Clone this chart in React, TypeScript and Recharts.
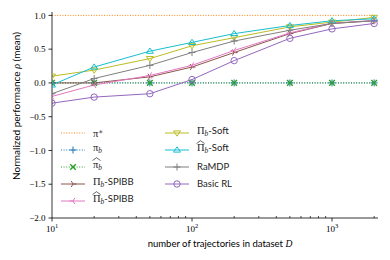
import React from 'react';
import { LineChart, Line, XAxis, YAxis, Legend } from 'recharts';

// dataset sizes (log x axis)
const trajectories = [10, 20, 50, 100, 200, 500, 1000, 2000];

// normalized performance per method
const piStar = [1, 1, 1, 1, 1, 1, 1, 1];
const piB = [0, 0, 0, 0, 0, 0, 0, 0];
const piBHat = [0, 0, 0, 0, 0, 0, 0, 0];
const spibb = [0.0, 0.0, 0.09, 0.235, 0.45, 0.73, 0.88, 0.92];
const spibbHat = [-0.2, -0.03, 0.11, 0.26, 0.48, 0.74, 0.885, 0.925];
const soft = [0.1, 0.19, 0.36, 0.55, 0.67, 0.83, 0.9, 0.97];
const softHat = [-0.03, 0.235, 0.47, 0.6, 0.73, 0.85, 0.92, 0.95];
const raMDP = [-0.16, 0.065, 0.26, 0.45, 0.62, 0.78, 0.88, 0.92];
const basicRL = [-0.3, -0.21, -0.16, 0.05, 0.33, 0.66, 0.8, 0.88];

const xTicks = [10, 20, 30, 40, 50, 60, 70, 80, 90, 100, 200, 300, 400, 500, 600, 700, 800, 900, 1000, 2000];
const majorX = [10, 100, 1000];
const yTicks = [-2, -1.5, -1, -0.5, 0, 0.5, 1];

const data = trajectories.map((n, i) => ({
  n,
  piStar: piStar[i],
  piB: piB[i],
  piBHat: piBHat[i],
  spibb: spibb[i],
  spibbHat: spibbHat[i],
  soft: soft[i],
  softHat: softHat[i],
  raMDP: raMDP[i],
  basicRL: basicRL[i],
}));

const SERIF = '"Liberation Serif", "DejaVu Serif", serif';
const SANS = 'Lato, "Open Sans", sans-serif';
const DOTTED = '1 1.6';

type Kind = 'none' | 'plus' | 'x' | 'triR' | 'triL' | 'triDown' | 'triUp' | 'circle';

const Marker = ({ kind, cx, cy, color }: { kind: Kind; cx: number; cy: number; color: string }) => {
  const r = 3.5;
  if (kind === 'plus') {
    return (
      <g stroke={color} strokeWidth={1}>
        <line x1={cx - r} x2={cx + r} y1={cy} y2={cy} />
        <line x1={cx} x2={cx} y1={cy - r} y2={cy + r} />
      </g>
    );
  }
  if (kind === 'x') {
    const d = 2.8;
    return (
      <g stroke={color} strokeWidth={1.4}>
        <line x1={cx - d} x2={cx + d} y1={cy - d} y2={cy + d} />
        <line x1={cx - d} x2={cx + d} y1={cy + d} y2={cy - d} />
      </g>
    );
  }
  if (kind === 'triR' || kind === 'triL') {
    const s = kind === 'triR' ? 1 : -1;
    return (
      <g stroke={color} strokeWidth={1}>
        <line x1={cx} y1={cy} x2={cx + s * r} y2={cy} />
        <line x1={cx} y1={cy} x2={cx - s * r * 0.5} y2={cy - r * 0.87} />
        <line x1={cx} y1={cy} x2={cx - s * r * 0.5} y2={cy + r * 0.87} />
      </g>
    );
  }
  if (kind === 'triDown') {
    const p = `${cx - r},${cy - r * 0.6} ${cx + r},${cy - r * 0.6} ${cx},${cy + r * 0.9}`;
    return <polygon points={p} fill="none" stroke={color} strokeWidth={1} />;
  }
  if (kind === 'triUp') {
    const p = `${cx - r},${cy + r * 0.6} ${cx + r},${cy + r * 0.6} ${cx},${cy - r * 0.9}`;
    return <polygon points={p} fill="none" stroke={color} strokeWidth={1} />;
  }
  if (kind === 'circle') {
    return <circle cx={cx} cy={cy} r={3.2} fill="none" stroke={color} strokeWidth={1} />;
  }
  return null;
};

const sub = (t: string) => <span style={{ fontSize: '0.7em', verticalAlign: '-0.25em', fontStyle: 'italic' }}>{t}</span>;
const sup = (t: string) => <span style={{ fontSize: '0.7em', verticalAlign: '0.45em' }}>{t}</span>;
const math = (c: React.ReactNode) => <span style={{ fontFamily: SERIF, fontSize: 10.5 }}>{c}</span>;
// wide hat drawn over a glyph
const hat = (c: string) => (
  <span style={{ position: 'relative', display: 'inline-block' }}>
    {c}
    <svg width={9} height={4} style={{ position: 'absolute', left: -1, top: -3 }}>
      <polyline points="0.5,3.5 4.5,0.7 8.5,3.5" fill="none" stroke="#222" strokeWidth={0.7} />
    </svg>
  </span>
);

const series = [
  { key: 'piStar', color: '#ff7f0e', kind: 'none' as Kind, dotted: true, label: math(<>π{sup('∗')}</>) },
  { key: 'piB', color: '#1f77b4', kind: 'plus' as Kind, dotted: true, label: math(<>π{sub('b')}</>) },
  { key: 'piBHat', color: '#2ca02c', kind: 'x' as Kind, dotted: true, label: math(<>{hat('π')}{sub('b')}</>) },
  { key: 'spibb', color: '#8c564b', kind: 'triR' as Kind, dotted: false, label: <>{math(<>Π{sub('b')}</>)}-SPIBB</> },
  { key: 'spibbHat', color: '#e377c2', kind: 'triL' as Kind, dotted: false, label: <>{math(<>{hat('Π')}{sub('b')}</>)}-SPIBB</> },
  { key: 'soft', color: '#bcbd22', kind: 'triDown' as Kind, dotted: false, label: <>{math(<>Π{sub('b')}</>)}-Soft</> },
  { key: 'softHat', color: '#17becf', kind: 'triUp' as Kind, dotted: false, label: <>{math(<>{hat('Π')}{sub('b')}</>)}-Soft</> },
  { key: 'raMDP', color: '#7f7f7f', kind: 'plus' as Kind, dotted: false, label: <>RaMDP</> },
  { key: 'basicRL', color: '#9467bd', kind: 'circle' as Kind, dotted: false, label: <>Basic RL</> },
];

const LegendRow = ({ s }: { s: (typeof series)[number] }) => (
  <div style={{ display: 'flex', alignItems: 'center', height: 17 }}>
    <svg width={24} height={10} style={{ flex: 'none' }}>
      <line x1={0} x2={24} y1={5} y2={5} stroke={s.color} strokeWidth={1} strokeDasharray={s.dotted ? DOTTED : undefined} />
      <Marker kind={s.kind} cx={12} cy={5} color={s.color} />
    </svg>
    <span style={{ marginLeft: 8, fontFamily: SANS, fontSize: 9.5, color: '#222', whiteSpace: 'nowrap', lineHeight: '10px' }}>
      {s.label}
    </span>
  </div>
);

const renderLegend = () => (
  <div style={{ display: 'flex' }}>
    <div style={{ width: 104 }}>
      {series.slice(0, 5).map((s) => <LegendRow key={s.key} s={s} />)}
    </div>
    <div>
      {series.slice(5).map((s) => <LegendRow key={s.key} s={s} />)}
    </div>
  </div>
);

const XTick = (props: any) => {
  const { x, y, payload } = props;
  const v = payload.value;
  const major = majorX.includes(v);
  if (!major) {
    return <line x1={x} x2={x} y1={y} y2={y - 2} stroke="#000" strokeWidth={0.7} />;
  }
  const exp = Math.round(Math.log10(v));
  return (
    <g>
      <line x1={x} x2={x} y1={y} y2={y + 3.5} stroke="#000" strokeWidth={0.8} />
      <text x={x} y={y + 14} textAnchor="middle" fontFamily={SERIF} fontSize={9} fill="#000">
        10<tspan fontSize={6.5} dy={-4}>{exp}</tspan>
      </text>
    </g>
  );
};

const fmtY = (v: number) => (v < 0 ? '\u2212' : '') + Math.abs(v).toFixed(1);

const YLabel = () => {
  const cy = 106;
  return (
    <text x={16} y={cy} transform={`rotate(-90, 16, ${cy})`} textAnchor="middle" dominantBaseline="central"
      fontFamily={SANS} fontSize={10} fill="#000">
      Normalized performance <tspan fontFamily={SERIF} fontStyle="italic">ρ</tspan> (mean)
    </text>
  );
};

const XLabel = () => (
  <text x={220} y={247} textAnchor="middle" fontFamily={SANS} fontSize={9.5} fill="#000">
    number of trajectories in dataset <tspan fontFamily={SERIF} fontStyle="italic">D</tspan>
  </text>
);

export default function App() {
  return (
    <div style={{ position: 'fixed', left: 0, top: 0, width: 390, height: 260, background: '#fff' }}>
      <LineChart width={390} height={260} data={data} margin={{ top: 12, right: 12, left: 0, bottom: 0 }}>
        <XAxis
          dataKey="n"
          type="number"
          scale="log"
          domain={[10, 2130]}
          ticks={xTicks}
          interval={0}
          allowDataOverflow
          tickSize={0}
          tickMargin={0}
          tickLine={false}
          tick={<XTick />}
          axisLine={{ stroke: '#000', strokeWidth: 0.8 }}
          height={42}
          label={<XLabel />}
        />
        <YAxis
          type="number"
          domain={[-2, 1.05]}
          ticks={yTicks}
          allowDataOverflow
          width={52}
          tickSize={3.5}
          tickMargin={3}
          tickFormatter={fmtY}
          tick={{ fontFamily: SERIF, fontSize: 9, fill: '#000' }}
          tickLine={{ stroke: '#000', strokeWidth: 0.8 }}
          axisLine={{ stroke: '#000', strokeWidth: 0.8 }}
          label={<YLabel />}
        />
        <Legend
          layout="vertical"
          align="center"
          verticalAlign="middle"
          content={renderLegend}
          wrapperStyle={{ left: 61, top: 124, width: 220, height: 90 }}
        />
        {series.map((s) => (
          <Line
            key={s.key}
            dataKey={s.key}
            type="linear"
            stroke={s.color}
            strokeWidth={1}
            strokeDasharray={s.dotted ? DOTTED : undefined}
            isAnimationActive={false}
            dot={
              s.kind === 'none'
                ? false
                : (p: any) => <Marker key={`${s.key}-${p.index}`} kind={s.kind} cx={p.cx} cy={p.cy} color={s.color} />
            }
            activeDot={false}
          />
        ))}
      </LineChart>
    </div>
  );
}
